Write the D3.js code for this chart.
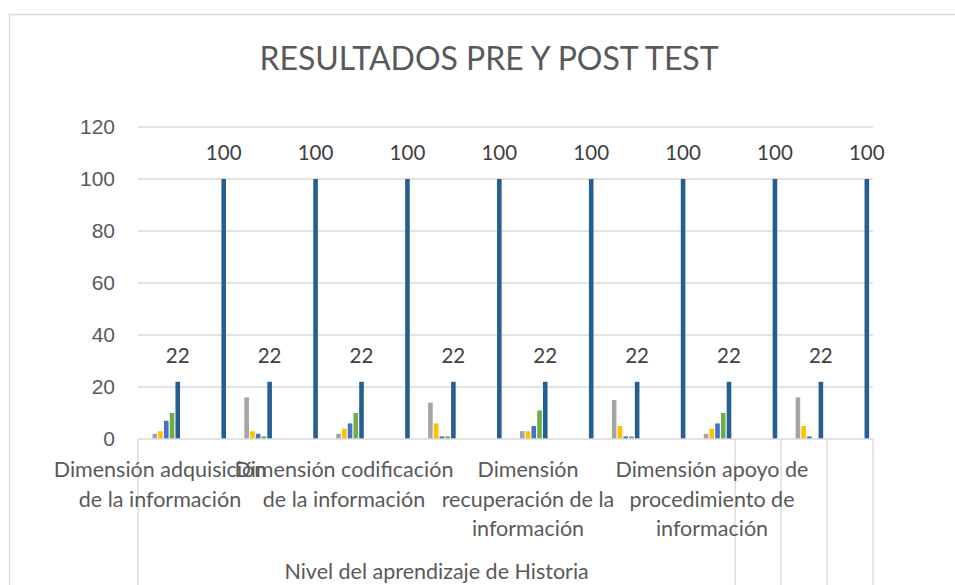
<!DOCTYPE html>
<html>
<head>
<meta charset="utf-8">
<script src="https://cdn.jsdelivr.net/npm/d3@7/dist/d3.min.js"></script>
<style>
	body { margin: 0; background: #fff; }
	svg { font-family: Lato, 'Open Sans', sans-serif; }
	.chart-border, .axis-box { stroke: #d9d9d9; stroke-width: 1.3; fill: none; }
	.gridline { stroke: #d9d9d9; stroke-width: 1.3; }
	.title { font-size: 32px; fill: #595959; }
	.tick-label { font-size: 21px; fill: #595959; }
	.bar-label { font-size: 20.5px; fill: #404040; }
	.cat-label { font-size: 21.5px; fill: #595959; }
</style>
</head>
<body>
<script>
// Chart text
var chartTitle = 'RESULTADOS PRE Y POST TEST';
var axisTitle = 'Nivel del aprendizaje de Historia';
var dimensions = [
	['Dimensión adquisición', 'de la información'],
	['Dimensión codificación', 'de la información'],
	['Dimensión', 'recuperación de la', 'información'],
	['Dimensión apoyo de', 'procedimiento de', 'información']
];
var tests = ['Pre', 'Post'];
var categories = ['D1 Pre', 'D1 Post', 'D2 Pre', 'D2 Post', 'D3 Pre', 'D3 Post', 'D4 Pre', 'D4 Post'];
var yTicks = [0, 20, 40, 60, 80, 100, 120];

// Series values, one per category
var serie1 = [0, 0, 0, 0, 0, 0, 0, 0];
var serie2 = [0, 0, 0, 0, 0, 0, 0, 0];
var serie3 = [2, 16, 2, 14, 3, 15, 2, 16];
var serie4 = [3, 3, 4, 6, 3, 5, 4, 5];
var serie5 = [7, 2, 6, 1, 5, 1, 6, 1];
var serie6 = [10, 1, 10, 1, 11, 1, 10, 0];
var serie7 = [22, 22, 22, 22, 22, 22, 22, 22];
var serie8 = [0, 0, 0, 0, 0, 0, 0, 0];
var serie9 = [0, 0, 0, 0, 0, 0, 0, 0];
var serie10 = [0, 0, 0, 0, 0, 0, 0, 0];
var serie11 = [0, 0, 0, 0, 0, 0, 0, 0];
var serie12 = [0, 0, 0, 0, 0, 0, 0, 0];
var serie13 = [0, 0, 0, 0, 0, 0, 0, 0];
var serie14 = [0, 0, 0, 0, 0, 0, 0, 0];
var serie15 = [100, 100, 100, 100, 100, 100, 100, 100];

var seriesNames = ['Serie 1', 'Serie 2', 'Serie 3', 'Serie 4', 'Serie 5', 'Serie 6', 'Serie 7', 'Serie 8',
	'Serie 9', 'Serie 10', 'Serie 11', 'Serie 12', 'Serie 13', 'Serie 14', 'Serie 15'];
var seriesValues = [serie1, serie2, serie3, serie4, serie5, serie6, serie7, serie8,
	serie9, serie10, serie11, serie12, serie13, serie14, serie15];
var seriesColors = ['#5b9bd5', '#ed7d31', '#a5a5a5', '#ffc000', '#4472c4', '#70ad47', '#255e91', '#9e480e',
	'#636363', '#997300', '#264478', '#43682b', '#7cafdd', '#f1975a', '#255e91'];
var labeledSeries = ['Serie 7', 'Serie 15'];

function PrePostChart() {
	this.chart = {};
	this.props = {
		width: 955,
		height: 585,
		plot: { left: 138, right: 873, top: 127, bottom: 439 }
	};
}

PrePostChart.prototype.createChart = function() {
	this.chart.svg = d3.select('body')
		.append('svg')
			.attr('width', this.props.width)
			.attr('height', this.props.height);

	// outer chart border, its right and bottom run off the picture
	this.chart.svg.append('path')
		.attr('class', 'chart-border')
		.attr('d', 'M9.5,' + this.props.height + 'V14.5H' + this.props.width);

	this.chart.svg.append('text')
		.attr('class', 'title')
		.attr('x', 489)
		.attr('y', 70)
		.attr('text-anchor', 'middle')
		.text(chartTitle);
};

PrePostChart.prototype.addScales = function() {
	var p = this.props.plot;
	this.chart.x = d3.scaleBand()
		.domain(categories)
		.range([p.left, p.right]);
	this.chart.xInner = d3.scaleBand()
		.domain(seriesNames)
		.range([3, 88])
		.paddingInner(0.2);
	this.chart.y = d3.scaleLinear()
		.domain([0, 120])
		.range([p.bottom, p.top]);
};

PrePostChart.prototype.addYAxis = function() {
	var that = this;
	var p = this.props.plot;
	var yAxis = d3.axisLeft(this.chart.y)
		.tickValues(yTicks)
		.tickSize(0)
		.tickPadding(23);

	var g = this.chart.svg.append('g')
		.attr('transform', 'translate(' + p.left + ',0)')
		.call(yAxis);
	g.select('.domain').remove();
	g.selectAll('.tick text')
		.attr('class', 'tick-label')
		.attr('fill', null)
		.attr('font-family', null)
		.attr('font-size', null);

	this.chart.svg.append('g')
		.selectAll('line')
		.data(yTicks.filter(function(d) { return d > 0; }))
		.enter()
		.append('line')
			.attr('class', 'gridline')
			.attr('x1', p.left)
			.attr('x2', p.right)
			.attr('y1', function(d) { return that.chart.y(d); })
			.attr('y2', function(d) { return that.chart.y(d); });
};

PrePostChart.prototype.addBars = function() {
	var that = this;
	var groups = this.chart.svg.append('g')
		.selectAll('g')
		.data(categories)
		.enter()
		.append('g')
			.attr('transform', function(d) {
				return 'translate(' + that.chart.x(d) + ',0)';
			});

	groups.selectAll('rect')
		.data(function(d, i) {
			return seriesNames.map(function(s, k) {
				return { serie: s, value: seriesValues[k][i], color: seriesColors[k] };
			});
		})
		.enter()
		.append('rect')
			.attr('x', function(d) { return that.chart.xInner(d.serie); })
			.attr('width', that.chart.xInner.bandwidth())
			.attr('y', function(d) { return that.chart.y(d.value); })
			.attr('height', function(d) { return that.chart.y(0) - that.chart.y(d.value); })
			.attr('fill', function(d) { return d.color; });

	groups.selectAll('.bar-label')
		.data(function(d, i) {
			return labeledSeries.map(function(s) {
				return { serie: s, value: seriesValues[seriesNames.indexOf(s)][i] };
			});
		})
		.enter()
		.append('text')
			.attr('class', 'bar-label')
			.attr('text-anchor', 'middle')
			.attr('x', function(d) { return that.chart.xInner(d.serie) + that.chart.xInner.bandwidth() / 2; })
			.attr('y', function(d) { return that.chart.y(d.value) - 19; })
			.text(function(d) { return d.value; });
};

PrePostChart.prototype.addXAxis = function() {
	var x = this.chart.x;
	var p = this.props.plot;
	var bottom = this.props.height;
	var half = x.bandwidth() / 2;

	// Excel's multi level category box, drawn the way the reference shows it
	var lastTwo = categories.slice(-2);
	var verticals = [p.left, x(lastTwo[0]) + half, x(lastTwo[1]), x(lastTwo[1]) + half, p.right];
	this.chart.svg.append('line')
		.attr('class', 'axis-box')
		.attr('x1', p.left)
		.attr('x2', p.right)
		.attr('y1', this.chart.y(0))
		.attr('y2', this.chart.y(0));
	this.chart.svg.append('g')
		.selectAll('line')
		.data(verticals)
		.enter()
		.append('line')
			.attr('class', 'axis-box')
			.attr('x1', function(d) { return d; })
			.attr('x2', function(d) { return d; })
			.attr('y1', this.chart.y(0))
			.attr('y2', bottom);

	var dimScale = d3.scaleBand()
		.domain(d3.range(dimensions.length))
		.range([68, 804]);

	var labels = this.chart.svg.append('g')
		.selectAll('text')
		.data(dimensions)
		.enter()
		.append('text')
			.attr('class', 'cat-label')
			.attr('text-anchor', 'middle')
			.attr('x', function(d, i) { return dimScale(i) + dimScale.bandwidth() / 2; })
			.attr('y', 477);
	labels.selectAll('tspan')
		.data(function(d) { return d; })
		.enter()
		.append('tspan')
			.attr('x', function() { return d3.select(this.parentNode).attr('x'); })
			.attr('dy', function(d, i) { return i === 0 ? 0 : 29.5; })
			.text(function(d) { return d; });

	this.chart.svg.append('text')
		.attr('class', 'cat-label')
		.attr('text-anchor', 'middle')
		.attr('x', (p.left + verticals[1]) / 2)
		.attr('y', 579)
		.text(axisTitle);
};

var chart = new PrePostChart();
chart.createChart();
chart.addScales();
chart.addYAxis();
chart.addBars();
chart.addXAxis();
</script>
</body>
</html>
